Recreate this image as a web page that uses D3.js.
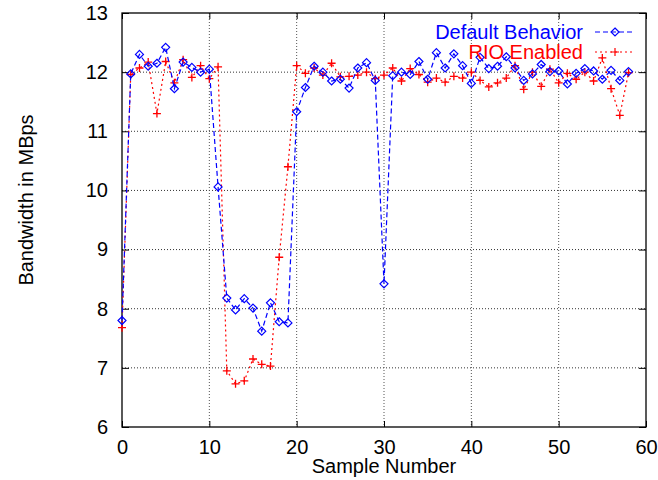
<!DOCTYPE html>
<html lang="en">
<head>
<meta charset="UTF-8">
<script src="https://d3js.org/d3.v7.min.js"></script>
<style>
  body { margin: 0; background: #fff; }
  text { font-family: "Liberation Sans", Arial, sans-serif; }
</style>
</head>
<body>
<svg id="chart" width="658" height="480"></svg>
<script>
// sample numbers (x)
var samples = [0, 1, 2, 3, 4, 5, 6, 7, 8, 9, 10, 11, 12, 13, 14, 15, 16, 17, 18, 19,
  20, 21, 22, 23, 24, 25, 26, 27, 28, 29, 30, 31, 32, 33, 34, 35, 36, 37, 38, 39,
  40, 41, 42, 43, 44, 45, 46, 47, 48, 49, 50, 51, 52, 53, 54, 55, 56, 57, 58];

// Default Behavior
var defaultBehavior = [7.80, 11.97, 12.30, 12.10, 12.15, 12.42, 11.72, 12.17, 12.08, 12.00,
  12.05, 10.06, 8.18, 7.98, 8.17, 8.01, 7.62, 8.10, 7.78, 7.76,
  11.33, 11.74, 12.10, 12.00, 11.85, 11.88, 11.73, 12.07, 12.16, 11.86,
  8.42, 11.94, 12.00, 11.96, 12.18, 11.88, 12.33, 12.07, 12.31, 12.11,
  11.81, 12.25, 12.06, 12.10, 12.26, 12.07, 11.86, 11.97, 12.13, 12.01,
  12.02, 11.80, 11.98, 12.06, 12.02, 11.88, 12.03, 11.86, 12.01];

// RIO Enabled
var rioEnabled = [7.68, 11.96, 12.07, 12.17, 11.30, 12.18, 11.82, 12.21, 11.91, 12.11,
  11.89, 12.09, 6.95, 6.73, 6.78, 7.15, 7.06, 7.03, 8.87, 10.40,
  12.11, 11.98, 12.07, 11.95, 12.15, 11.92, 11.93, 11.95, 12.00, 11.89,
  11.95, 12.07, 11.85, 12.06, 11.96, 11.83, 11.90, 11.83, 11.93, 11.90,
  12.00, 11.86, 11.75, 11.82, 11.90, 12.11, 11.71, 12.00, 11.76, 12.05,
  11.82, 11.98, 11.88, 12.00, 11.85, 12.24, 11.72, 11.27, 11.99];

var xTicks = [0, 10, 20, 30, 40, 50, 60];
var yTicks = [6, 7, 8, 9, 10, 11, 12, 13];

var seriesNames = ["Default Behavior", "RIO Enabled"];

var svg = d3.select("#chart");
var pLeft = 122, pRight = 646, pTop = 13, pBottom = 427;

var x = d3.scaleLinear().domain([0, 60]).range([pLeft, pRight]);
var y = d3.scaleLinear().domain([6, 13]).range([pBottom, pTop]);

// grid
svg.append("g").selectAll("line").data(yTicks.slice(1, -1)).enter().append("line")
  .attr("x1", pLeft).attr("x2", pRight)
  .attr("y1", d => y(d)).attr("y2", d => y(d))
  .attr("stroke", "#333").attr("stroke-width", 1).attr("stroke-dasharray", "1,2");
svg.append("g").selectAll("line").data(xTicks.slice(1, -1)).enter().append("line")
  .attr("y1", pTop).attr("y2", pBottom)
  .attr("x1", d => x(d)).attr("x2", d => x(d))
  .attr("stroke", "#555").attr("stroke-width", 1).attr("stroke-dasharray", "1,2");

// axes (ticks inward, mirrored)
var axL = d3.axisLeft(y).tickValues(yTicks).tickSize(-7).tickPadding(14).tickFormat(d3.format("d"));
var axR = d3.axisRight(y).tickValues(yTicks).tickSize(-7).tickFormat("");
var axB = d3.axisBottom(x).tickValues(xTicks).tickSize(-6).tickPadding(13).tickFormat(d3.format("d"));
var axT = d3.axisTop(x).tickValues(xTicks).tickSize(-6).tickFormat("");

function style(g) {
  g.select(".domain").remove();
  g.selectAll("line").attr("stroke", "#000");
  g.selectAll("text").attr("font-size", 20).attr("fill", "#000")
    .style("font-family", "'Liberation Sans', Arial, sans-serif");
}
svg.append("g").attr("transform", "translate(" + pLeft + ",0)").call(axL).call(style);
svg.append("g").attr("transform", "translate(" + pRight + ",0)").call(axR).call(style);
svg.append("g").attr("transform", "translate(0," + pBottom + ")").call(axB).call(style);
svg.append("g").attr("transform", "translate(0," + pTop + ")").call(axT).call(style);

// frame
svg.append("rect")
  .attr("x", pLeft).attr("y", pTop)
  .attr("width", pRight - pLeft).attr("height", pBottom - pTop)
  .attr("fill", "none").attr("stroke", "#000").attr("stroke-width", 1.3);

// axis titles
svg.append("text")
  .attr("transform", "translate(33,200) rotate(-90)")
  .attr("text-anchor", "middle")
  .attr("font-size", 20)
  .text("Bandwidth in MBps");
svg.append("text")
  .attr("x", 384).attr("y", 473)
  .attr("text-anchor", "middle")
  .attr("font-size", 20)
  .text("Sample Number");

var line = d3.line().x((d, i) => x(samples[i])).y(d => y(d));

var diamond = "M0,-4L4,0L0,4L-4,0Z";
var plus = "M-4,0H4M0,-4V4";

// RIO Enabled (red, dotted, plus)
svg.append("path").datum(rioEnabled)
  .attr("d", line).attr("fill", "none")
  .attr("stroke", "#ff0000").attr("stroke-width", 1.2).attr("stroke-dasharray", "2,3");
svg.append("g").selectAll("path").data(rioEnabled).enter().append("path")
  .attr("transform", (d, i) => "translate(" + x(samples[i]) + "," + y(d) + ")")
  .attr("d", plus).attr("stroke", "#ff0000").attr("stroke-width", 1.3).attr("fill", "none");

// Default Behavior (blue, dashed, diamond)
svg.append("path").datum(defaultBehavior)
  .attr("d", line).attr("fill", "none")
  .attr("stroke", "#0000ff").attr("stroke-width", 1.2).attr("stroke-dasharray", "5,3");
svg.append("g").selectAll("path").data(defaultBehavior).enter().append("path")
  .attr("transform", (d, i) => "translate(" + x(samples[i]) + "," + y(d) + ")")
  .attr("d", diamond).attr("stroke", "#0000ff").attr("stroke-width", 1.2).attr("fill", "none");

// legend
var legend = svg.append("g");
var legColors = ["#0000ff", "#ff0000"];
var legDash = ["5,3", "2,3"];
var legMarks = [diamond, plus];
seriesNames.forEach(function (name, i) {
  var ly = 32 + i * 20;
  legend.append("text")
    .attr("x", 583).attr("y", ly + 7)
    .attr("text-anchor", "end")
    .attr("font-size", 20)
    .attr("fill", legColors[i])
    .text(name);
  legend.append("line")
    .attr("x1", 595).attr("x2", 635).attr("y1", ly).attr("y2", ly)
    .attr("stroke", legColors[i]).attr("stroke-width", 1.2).attr("stroke-dasharray", legDash[i]);
  legend.append("path")
    .attr("transform", "translate(615," + ly + ")")
    .attr("d", legMarks[i]).attr("stroke", legColors[i]).attr("stroke-width", 1.2).attr("fill", "none");
});
</script>
</body>
</html>
